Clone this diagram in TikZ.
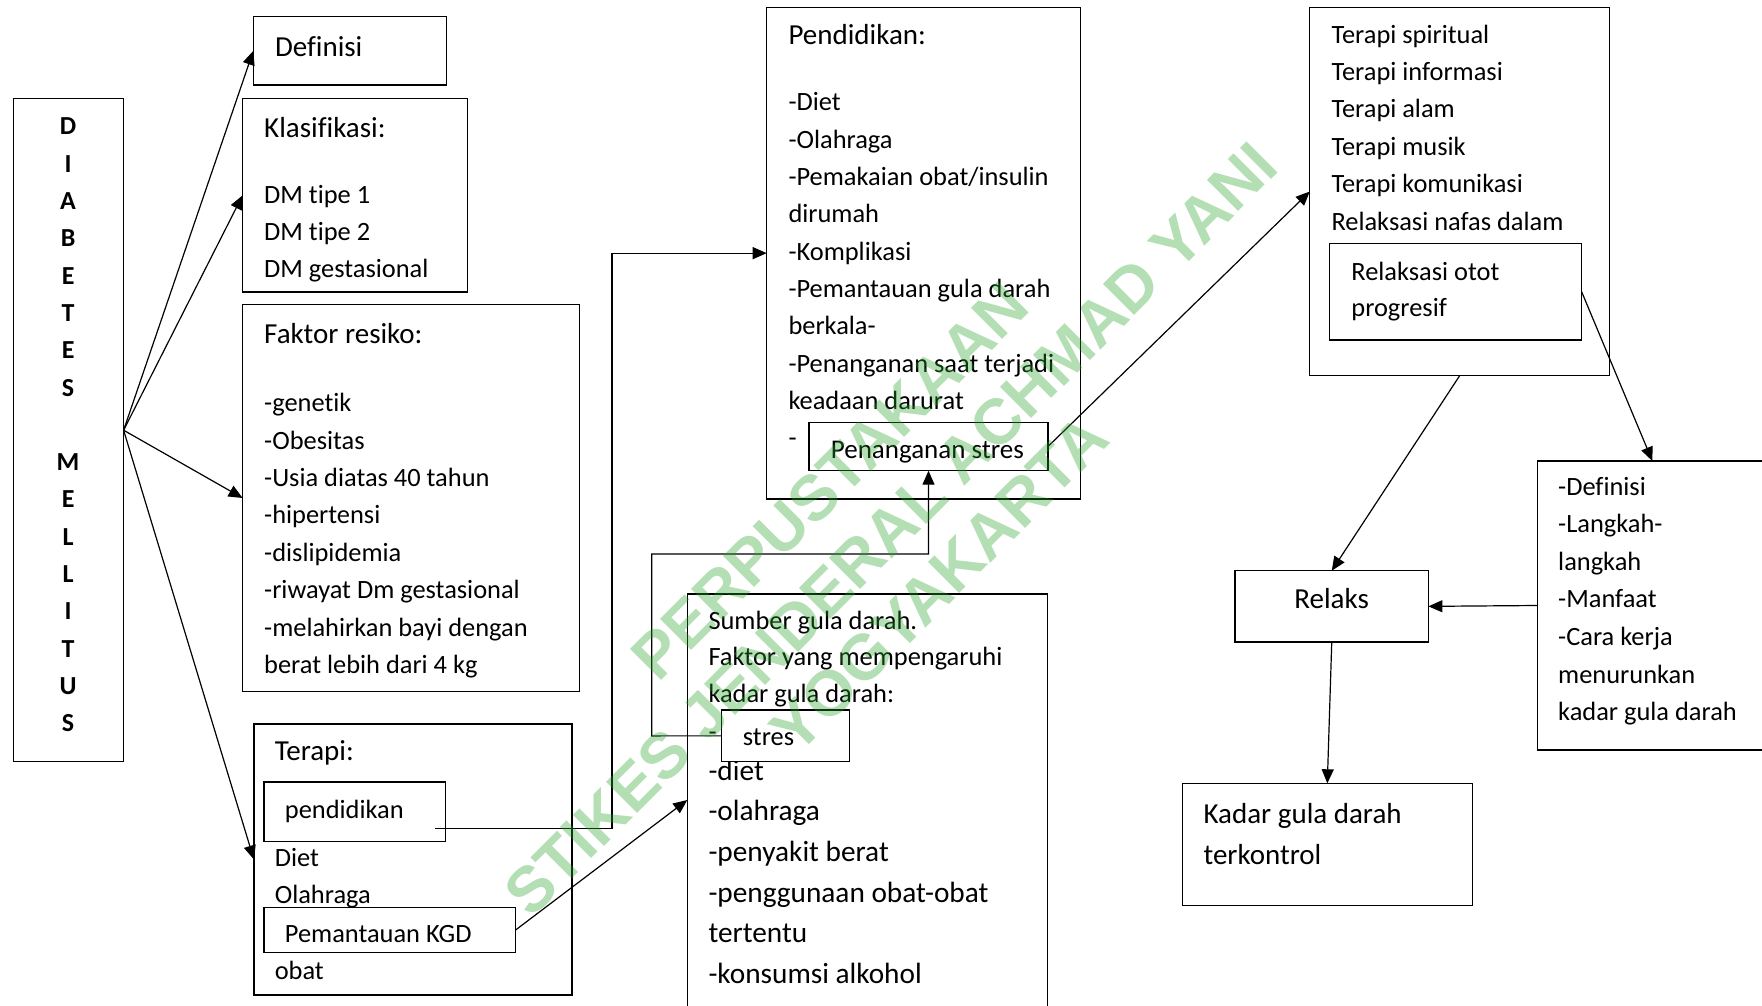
\documentclass[tikz,border=0pt]{standalone}
\usepackage{fontspec}
\setmainfont{Carlito}[Ligatures={NoCommon,NoRequired,NoContextual}]
\newfontfamily\wmfont{Liberation Sans}
\usetikzlibrary{arrows.meta,calc}
\definecolor{wmgreen}{RGB}{41,161,41}
\tikzset{
 box/.style={draw, line width=1.3pt, inner sep=0pt, outer sep=0pt, anchor=north west},
 wbox/.style={box, fill=white},
 tx/.style={anchor=base west, inner sep=0pt, font=\fontsize{26.4}{30}\selectfont},
 th/.style={anchor=base west, inner sep=0pt, font=\fontsize{29}{33}\selectfont},
 tl/.style={anchor=base west, inner sep=0pt, font=\fontsize{29.3}{33}\selectfont},
 dml/.style={anchor=base, inner sep=0pt, font=\fontsize{26}{30}\selectfont\bfseries},
 arr/.style={line width=1.2pt, -{Triangle[length=14pt,width=12pt]}},
 wm/.style={rotate=45, inner sep=0pt, text=wmgreen, text opacity=0.35, font=\wmfont\bfseries\fontsize{64}{70}\selectfont},
}
\begin{document}
\begin{tikzpicture}[x=1pt,y=-1pt]
\useasboundingbox (0,0) rectangle (1762,1006);

% ---------- boxes ----------
\node[box, minimum width=109.8, minimum height=663] (dm) at (13.8,98.7) {};
\node[box, minimum width=192.9, minimum height=68.3] (defn) at (253.3,16.7) {};
\node[box, minimum width=224.7, minimum height=193.3] (klas) at (242.6,98.7) {};
\node[box, minimum width=337.2, minimum height=387.4] (fak) at (242.6,304.3) {};
\node[box, minimum width=318.2, minimum height=271] (ter) at (253.9,724) {};
\node[box, minimum width=314, minimum height=491.7] (pdk) at (766.7,7.3) {};
\node[box, minimum width=360.4, minimum height=418] (smb) at (687.3,594) {};
\node[box, minimum width=299.7, minimum height=368.4] (trp) at (1309.8,7.3) {};
\node[box, minimum width=229.3, minimum height=289] (defl) at (1537.7,461) {};
\node[box, minimum width=193.3, minimum height=71.3] (rlx) at (1235.1,570.7) {};
\node[box, minimum width=290, minimum height=122.4] (kgd) at (1182.3,783.3) {};

% ---------- DIABETES MELLITUS ----------
\foreach \l [count=\i from 0] in {D,I,A,B,E,T,E,S}
  \node[dml] (dma\i) at (68.1, 135+37.29*\i) {\l};
\foreach \l [count=\i from 9] in {M,E,L,L,I,T,U,S}
  \node[dml] (dmb\i) at (68.1, 135+37.29*\i) {\l};

% ---------- Definisi ----------
\node[th] (tdefn) at (274.8,56.7) {Definisi};

% ---------- Klasifikasi ----------
\node[th] (tklas) at (264,137.3) {Klasifikasi:};
\node[tx] (kl1) at (264,203.3) {DM tipe 1};
\node[tx] (kl2) at (264,240) {DM tipe 2};
\node[tx] (kl3) at (264,277.3) {DM gestasional};

% ---------- Faktor resiko ----------
\node[th] (tfak) at (264,343.3) {Faktor resiko:};
\foreach \t [count=\i from 0] in {-genetik,-Obesitas,-Usia diatas 40 tahun,-hipertensi,-dislipidemia,-riwayat Dm gestasional,-melahirkan bayi dengan,berat lebih dari 4 kg}
  \node[tx] (fk\i) at (264, 411.7+37.4*\i) {\t};

% ---------- Terapi ----------
\node[th] (tter) at (274.6,760.7) {Terapi:};
\node[tx] (tdiet) at (274.6,866.7) {Diet};
\node[tx] (tolah) at (274.6,903.3) {Olahraga};
\node[tx] (tobat) at (274.6,979) {obat};
\node[wbox, minimum width=181.8, minimum height=59.3] (pend) at (264,782) {};
\node[tx] (tpend) at (284.7,818.3) {pendidikan};
\node[wbox, minimum width=251.6, minimum height=45.4] (pkgd) at (264,907.3) {};
\node[tx] (tpkgd) at (284.7,942.7) {Pemantauan KGD};

% ---------- Pendidikan ----------
\node[th] (tpdk) at (788.3,45) {Pendidikan:};
\foreach \t [count=\i from 0] in {-Diet,-Olahraga,-Pemakaian obat/insulin,dirumah,-Komplikasi,-Pemantauan gula darah,berkala-,-Penanganan saat terjadi,keadaan darurat,-}
  \node[tx] (pd\i) at (788.3, 111+37.3*\i) {\t};
\node[wbox, minimum width=239, minimum height=48.4] (pstres) at (809,422.3) {};
\node[anchor=base west, inner sep=0pt, font=\fontsize{27}{30}\selectfont] (tpstres) at (830.7,458) {Penanganan stres};

% ---------- Sumber gula darah ----------
\node[tx] (sm1) at (708.3,629) {Sumber gula darah.};
\node[tx] (sm2) at (708.3,665.7) {Faktor yang mempengaruhi};
\node[tx] (sm3) at (708.3,702.7) {kadar gula darah:};
\node[tx] (sm4) at (708.3,740) {-};
\foreach \t [count=\i from 0] in {-diet,-olahraga,-penyakit berat,-penggunaan obat-obat,tertentu,-konsumsi alkohol}
  \node[tl] (sf\i) at (708.3, 780+40.7*\i) {\t};
\node[wbox, minimum width=127.6, minimum height=51.7] (stres) at (721.7,710) {};
\node[tx] (tstres) at (742.7,745) {stres};

% ---------- Terapi spiritual ... ----------
\foreach \t [count=\i from 0] in {Terapi spiritual,Terapi informasi,Terapi alam,Terapi musik,Terapi komunikasi,Relaksasi nafas dalam}
  \node[tx] (tp\i) at (1331.3, 43.3+37.35*\i) {\t};
\node[wbox, minimum width=252.4, minimum height=96.7] (rot) at (1329.2,243.3) {};
\node[tx] (rot1) at (1351.2,280) {Relaksasi otot};
\node[tx] (rot2) at (1351.2,316.7) {progresif};

% ---------- Definisi list ----------
\foreach \t [count=\i from 0] in {-Definisi,-Langkah-,langkah,-Manfaat,-Cara kerja,menurunkan,kadar gula darah}
  \node[tx] (dl\i) at (1558, 495+37.6*\i) {\t};

% ---------- Relaks / Kadar ----------
\node[anchor=base, inner sep=0pt, font=\fontsize{29}{33}\selectfont] (trlx) at (1331.6,608.3) {Relaks};
\node[th] (tkgd1) at (1203.4,823.3) {Kadar gula darah};
\node[th] (tkgd2) at (1203.4,864) {terkontrol};

% ---------- connectors ----------
\draw[arr] (dm.east) -- (defn.west);
\draw[arr] (dm.east) -- (klas.west);
\draw[arr] (dm.east) -- (fak.west);
\draw[arr] (dm.east) -- (ter.west);

\coordinate (pendout) at (434.8,828.3);
\draw[arr] (pendout) -- (612,828.3) |- (pdk.west);
\draw[arr] (pkgd.east) -- ($(smb.north west)+(0,206)$);
\draw[arr] (stres.west) -- (651.7,735.9) -- (651.7,554) -| (pstres.south);
\draw[arr] (pstres.east) -- (trp.west);
\draw[arr] (rot.east) -- (defl.north);
\draw[arr] (trp.south) -- (rlx.north);
\draw[arr] (defl.west) -- (rlx.east);
\draw[arr] (rlx.south) -- (kgd.north);

% ---------- watermark ----------
\node[wm] (wm1) at (830,481.5) {PERPUSTAKAAN};
\node[wm] (wm2) at (890.5,529) {STIKES JENDERAL ACHMAD YANI};
\node[wm] (wm3) at (939,583.5) {YOGYAKARTA};
\end{tikzpicture}
\end{document}
